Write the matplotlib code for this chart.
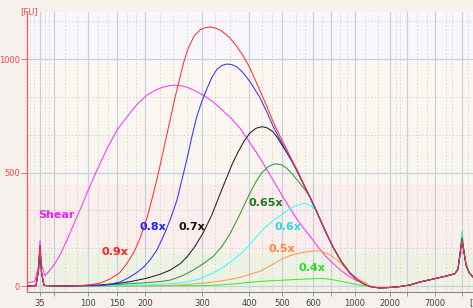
import matplotlib
matplotlib.use('Agg')
import matplotlib.pyplot as plt

# x = position along the run (bp scale is non-linear), y = fluorescence [FU]
x_ticks = [40, 88, 117, 145, 202, 249, 282, 313, 355, 390, 435]
x_tick_labels = ['35', '100', '150', '200', '300', '400', '500', '600', '1000', '2000', '7000']
x_ticks_nolabel = [54, 331, 407, 462]
x_minor = [30, 34, 45, 49, 65, 77, 98, 108, 127, 136, 160, 173, 187, 215, 230, 262,
           272, 296, 305, 322, 340, 347, 365, 378, 396, 400, 417, 427, 446, 452, 468]
y_ticks = [0, 500, 1000]
y_minor = [167, 333, 667, 833, 1167]

# lower marker (35 bp), shared by all samples
low_x = [27, 36, 38.5, 40, 41.5, 44, 55]
low_y = [0, 2, 70, 175, 60, 3, 0]

# common falling edge where the large-fragment curves overlap
bundle_x = [310, 317, 325, 333, 341, 350, 357, 363]
bundle_y = [392, 325, 245, 172, 110, 57, 28, 12]

# upper region + upper marker, shared (peak height differs per sample)
tail_x = [367, 372, 380, 390, 400, 410, 420, 430, 440, 448, 455, 458, 460, 462, 464, 466, 469, 473]
tail_y = [3, -4, -8, -6, -2, 5, 18, 28, 38, 46, 55, 75, 140, 0, 150, 95, 60, 40]

shear_x = [27, 32, 35, 38.5, 40, 41.5, 45, 50, 55, 60, 67, 73, 80, 88, 97, 107, 117, 124,
           130, 138, 147, 155, 163, 170, 175, 181, 187, 195, 203, 212, 220, 230, 240, 250,
           257, 263, 268, 273, 278, 283, 290, 297, 303, 310, 317, 325, 333, 340, 350, 357, 363]
shear_y = [13, 18, 22, 90, 200, 95, 45, 70, 100, 137, 203, 265, 335, 420, 511, 605, 687, 728,
           762, 805, 841, 862, 876, 883, 885, 882, 876, 860, 841, 815, 784, 744, 696, 630,
           585, 542, 505, 467, 430, 392, 342, 295, 258, 220, 178, 135, 100, 72, 40, 24, 13]

r09_x = [80, 90, 100, 110, 120, 127, 134, 140, 147, 153, 158, 162, 166, 170, 175, 180, 184,
         188, 194, 200, 205, 210, 215, 220, 225, 230, 236, 243, 250, 260, 267, 273, 280,
         287, 292, 297, 303]
r09_y = [2, 6, 13, 31, 60, 100, 150, 210, 300, 400, 490, 570, 650, 730, 830, 920, 990,
         1045, 1100, 1128, 1138, 1141, 1137, 1128, 1112, 1092, 1060, 1015, 960, 860, 790,
         725, 660, 600, 555, 510, 455]

r08_x = [100, 110, 120, 128, 137, 144, 150, 157, 163, 170, 177, 182, 187, 192, 197, 202,
         207, 212, 217, 222, 227, 232, 237, 243, 250, 255, 260, 267, 273, 280, 287, 292,
         297, 303]
r08_y = [2, 8, 18, 35, 60, 85, 115, 160, 216, 290, 379, 470, 560, 660, 750, 815, 870,
         920, 955, 972, 978, 975, 965, 940, 900, 865, 830, 765, 705, 645, 588, 548, 505, 452]

r07_x = [60, 80, 100, 120, 133, 147, 160, 170, 180, 187, 195, 203, 212, 220, 226, 232, 238,
         244, 250, 256, 262, 267, 273, 278, 283, 290, 297, 303]
r07_y = [0, 2, 5, 13, 22, 35, 52, 70, 98, 128, 175, 233, 315, 405, 470, 535, 590, 638,
         675, 695, 702, 697, 680, 650, 614, 565, 512, 455]

r065_x = [60, 100, 140, 160, 170, 182, 193, 203, 213, 222, 230, 238, 244, 250, 256, 262,
          268, 273, 277, 282, 287, 293, 300, 305]
r065_y = [0, 3, 13, 20, 26, 45, 70, 98, 130, 175, 230, 300, 355, 410, 460, 500, 525, 536,
          538, 533, 518, 490, 452, 425]

r06_x = [60, 120, 153, 170, 187, 200, 213, 225, 237, 245, 252, 258, 265, 272, 280, 288, 295,
         301, 306, 310, 314]
r06_y = [0, 2, 6, 10, 18, 32, 57, 88, 128, 160, 195, 225, 258, 285, 310, 335, 352, 362,
         364, 355, 340]

r05_x = [60, 153, 180, 203, 220, 237, 245, 252, 260, 267, 275, 283, 292, 300, 308, 315, 320,
         325, 331, 337, 342, 347, 352, 357, 362, 367]
r05_y = [0, 0, 5, 13, 22, 35, 45, 55, 65, 82, 102, 122, 137, 146, 152, 155, 154, 148, 135,
         115, 95, 72, 52, 35, 22, 12]

r04_x = [60, 200, 220, 235, 250, 265, 283, 300, 317, 325, 333, 342, 350, 358, 367]
r04_y = [0, 2, 5, 10, 17, 22, 26, 30, 33, 33, 28, 20, 13, 6, 1]

upper_peak = {'shear': 150, '0.9x': 205, '0.8x': 210, '0.7x': 200,
              '0.65x': 215, '0.6x': 230, '0.5x': 220, '0.4x': 240}

# name, x, y, colour, joins the common falling edge
series = [
    ('shear', shear_x, shear_y, '#ff33ff', False),
    ('0.4x', r04_x, r04_y, '#33ee33', False),
    ('0.5x', r05_x, r05_y, '#ff9955', False),
    ('0.6x', r06_x, r06_y, '#33ffff', True),
    ('0.65x', r065_x, r065_y, '#2e9a2e', True),
    ('0.7x', r07_x, r07_y, '#202020', True),
    ('0.8x', r08_x, r08_y, '#3333ff', True),
    ('0.9x', r09_x, r09_y, '#ff3333', True),
]

labels = [('Shear', 38, 300, '#ee22ee'), ('0.9x', 101, 135, '#ff2020'),
          ('0.8x', 139, 246, '#2020ff'), ('0.7x', 178, 246, '#101010'),
          ('0.65x', 248, 354, '#1a7a1a'), ('0.6x', 274, 248, '#22dddd'),
          ('0.5x', 268, 152, '#ff8833'), ('0.4x', 298, 65, '#22dd22')]

fig = plt.figure(figsize=(4.73, 3.08), dpi=100, facecolor='#f6f1ec')
ax = fig.add_axes([27 / 473, 1 - 292 / 308, 1 - 27 / 473, (292 - 12) / 308])
ax.set_xlim(27, 473)
ax.set_ylim(-26, 1207)

# background bands
for lo, hi, c in [(-26, 150, '#eef2e3'), (150, 450, '#fbefed'), (450, 700, '#f8f6ee'),
                  (700, 1000, '#fcf8f1'), (1000, 1207, '#f9f7fb')]:
    ax.axhspan(lo, hi, color=c, lw=0, zorder=0)

for xm in x_minor:
    ax.axvline(xm, color='#d4d4d4', lw=0.7, ls=(0, (1.5, 2)), zorder=1)
for ym in y_minor:
    ax.axhline(ym, color='#d4d4d4', lw=0.7, ls=(0, (1.5, 2)), zorder=1)
for xv in x_ticks + x_ticks_nolabel:
    ax.axvline(xv, color='#c9cee2', lw=0.9, zorder=1)
for yv in y_ticks:
    ax.axhline(yv, color='#c9cee2', lw=0.9, zorder=1)

for name, mx, my, col, joins in series:
    if name == 'shear':
        xs, ys = list(mx), list(my)
    else:
        xs, ys = low_x + list(mx), low_y + list(my)
    if joins:
        xs, ys = xs + bundle_x, ys + bundle_y
    ty = list(tail_y)
    ty[13] = upper_peak[name]
    ax.plot(xs + tail_x, ys + ty, color=col, lw=0.75, zorder=3)

for txt, tx, ty, col in labels:
    ax.text(tx, ty, txt, color=col, fontsize=8, fontweight='bold', zorder=4)

ax.set_xticks(x_ticks + x_ticks_nolabel)
ax.set_xticklabels(x_tick_labels + [''] * len(x_ticks_nolabel))
ax.set_yticks(y_ticks)
ax.tick_params(axis='x', colors='#888888', labelcolor='#404040', labelsize=6, length=3, width=0.6, pad=2)
ax.tick_params(axis='y', colors='#ff5555', labelcolor='#ff4444', labelsize=6, length=4, width=0.6, pad=1)
for s in ['top', 'right']:
    ax.spines[s].set_visible(False)
ax.spines['left'].set_color('#ff5555')
ax.spines['left'].set_linewidth(0.9)
ax.spines['bottom'].set_color('#888888')
ax.spines['bottom'].set_linewidth(0.8)

fig.text(20 / 473, 1 - 14 / 308, '[FU]', color='#ff4444', fontsize=6)
fig.text(469 / 473, 1 - 305 / 308, '[', color='#404040', fontsize=6)

fig.savefig('out.png', dpi=100, facecolor=fig.get_facecolor())
